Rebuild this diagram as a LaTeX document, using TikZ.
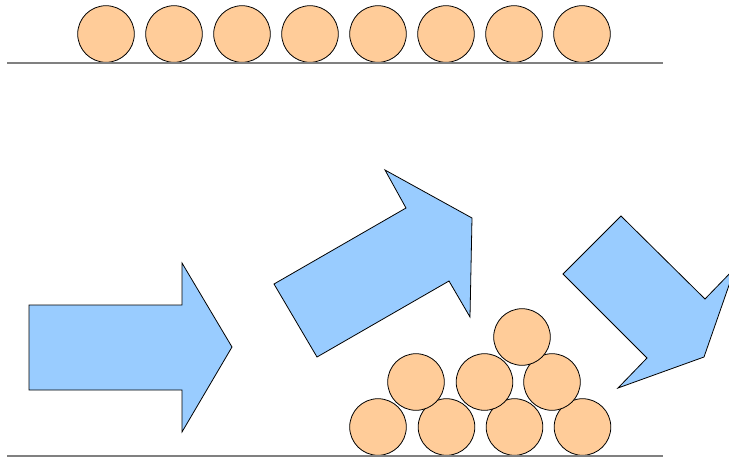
\documentclass[tikz,border=0pt]{standalone}
\definecolor{ball}{HTML}{FFCC99}
\definecolor{arr}{HTML}{99CCFF}
\definecolor{ground}{HTML}{808080}
\tikzset{
  ballst/.style={circle, draw=black, fill=ball, line width=0.8pt, minimum size=56.6pt, inner sep=0pt},
  arrowst/.style={draw=black, fill=arr, line width=0.8pt, line join=miter},
  groundst/.style={draw=ground, line width=1.5pt}
}
\begin{document}
\begin{tikzpicture}[x=1pt,y=-1pt]
\useasboundingbox (0,0) rectangle (729,459);
\clip (0,0) rectangle (729,459);
% top row
\foreach \i in {0,...,7} {
  \node[ballst] (t\i) at ({106+68*\i},34) {};
}
\coordinate (g1a) at (7,63);
\coordinate (g1b) at (663,63);
\draw[groundst] (g1a) -- (g1b);
% arrows
\draw[arrowst] (29,305) -- (182,305) -- (182,263) -- (232,347) -- (182,432) -- (182,390) -- (29,390) -- cycle;
\draw[arrowst] (274,284) -- (406,208) -- (385,170) -- (472,218) -- (470,317) -- (449,281) -- (317,357) -- cycle;
\draw[arrowst] (621,216) -- (705,299) -- (735,268) -- (704,357) -- (618,388) -- (647,358) -- (563,274) -- cycle;
% pyramid
\node[ballst] (b1) at (378,427) {};
\node[ballst] (b2) at (446.5,427) {};
\node[ballst] (b3) at (514.5,427) {};
\node[ballst] (b4) at (582.5,427) {};
\node[ballst] (m1) at (416,382) {};
\node[ballst] (m2) at (484.5,382) {};
\node[ballst] (m3) at (552,382) {};
\node[ballst] (p1) at (522,337) {};
\coordinate (g2a) at (7,456);
\coordinate (g2b) at (663,456);
\draw[groundst] (g2a) -- (g2b);
\end{tikzpicture}
\end{document}
